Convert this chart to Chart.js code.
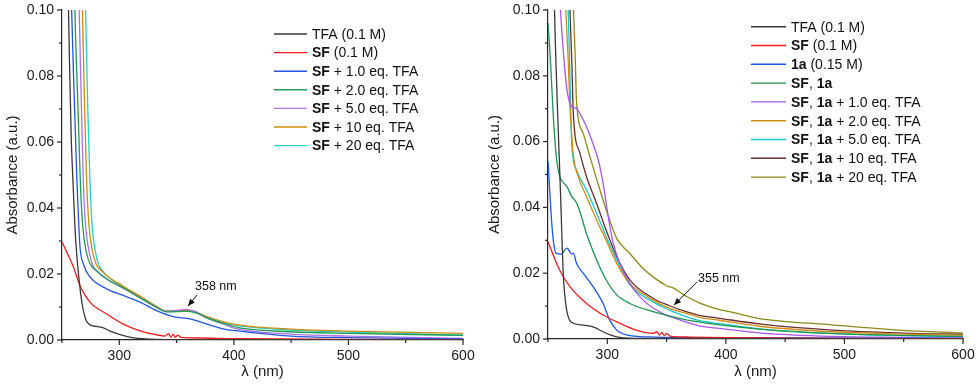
<!DOCTYPE html>
<html><head><meta charset="utf-8">
<script src="https://cdn.jsdelivr.net/npm/chart.js@4.4.0/dist/chart.umd.min.js"></script>
<style>
html,body{margin:0;padding:0;background:#fff;}
#wrap{position:relative;width:979px;height:384px;overflow:hidden;}
#c1{position:absolute;left:0;top:0;width:482px;height:384px;}
#c2{position:absolute;left:482px;top:0;width:497px;height:384px;}
</style></head><body>
<div id="wrap"><canvas id="c1" width="482" height="384"></canvas><canvas id="c2" width="497" height="384"></canvas></div>
<script>
// ---------- tick values ----------
const X_MIN = 250, X_MAX = 600, X_STEP = 50;
const Y_MIN = 0, Y_MAX = 0.10, Y_STEP = 0.01;
const X_TITLE = 'λ (nm)';
const Y_TITLE = 'Absorbance (a.u.)';

// ---------- left panel series: [wavelength nm, absorbance] ----------
const L_TFA = [[250,0.4],[255,0.12],[256.5,0.085],[258,0.062],[259.6,0.048],[262,0.03],[265,0.018],[268,0.01],[271,0.006],[275,0.0045],[280,0.0041],[285,0.0038],[292,0.0027],[300,0.0017],[310,0.0008],[320,0.0004],[350,0.0001],[600,0.00005]];
const L_SF = [[250,0.0297],[255,0.026],[260,0.0221],[265.7,0.0165],[274.4,0.0115],[289,0.0079],[303,0.0049],[318,0.0028],[332,0.0016],[340,0.0012],[343,0.0019],[345,0.0009],[347,0.0017],[349,0.0008],[351,0.0015],[354,0.0008],[370,0.0006],[400,0.0004],[500,0.0002],[600,0.0001]];
const L_SF_1 = [[256,0.14],[258.4,0.1],[261,0.07],[263,0.0485],[264.5,0.036],[265.7,0.0282],[268.6,0.0231],[274.4,0.0191],[289,0.0155],[303.5,0.0135],[318,0.0115],[332.6,0.0089],[347,0.0071],[361.6,0.0064],[376,0.0049],[390.6,0.0034],[405,0.0027],[450,0.0012],[500,0.0007],[600,0.0003]];
const L_SF_2 = [[259.5,0.14],[261.3,0.1],[264,0.07],[266,0.048],[268,0.035],[271,0.027],[275,0.0228],[280,0.021],[289,0.0185],[303.5,0.0158],[318,0.0128],[332.6,0.0099],[341,0.0085],[353,0.0086],[360,0.0087],[368,0.0081],[376,0.0068],[391,0.005],[405,0.0037],[450,0.0025],[500,0.002],[600,0.0014]];
const L_SF_5 = [[263,0.14],[265,0.1],[267,0.07],[268.6,0.048],[270.5,0.035],[273.5,0.027],[277,0.0225],[282,0.0205],[289,0.0185],[303.5,0.0157],[318,0.0128],[332.6,0.0099],[341,0.0087],[350,0.009],[358,0.0093],[365,0.0088],[376,0.0068],[391,0.0048],[405,0.0032],[450,0.0018],[500,0.0012],[600,0.0005]];
const L_SF_10 = [[266,0.14],[267.8,0.1],[269.8,0.07],[271.5,0.048],[273.5,0.035],[276.5,0.027],[280,0.0228],[285,0.0208],[289,0.0195],[303.5,0.0163],[318,0.0133],[332.6,0.0102],[341,0.0088],[350,0.0088],[358,0.009],[366,0.0086],[376,0.0072],[391,0.0055],[405,0.0045],[450,0.0033],[500,0.0027],[600,0.002]];
const L_SF_20 = [[268.8,0.14],[270.6,0.1],[272.5,0.07],[274.4,0.048],[276.2,0.035],[279,0.027],[282,0.0228],[286,0.0208],[289,0.0195],[303.5,0.016],[318,0.013],[332.6,0.01],[341,0.0086],[350,0.0087],[358,0.0089],[366,0.0085],[376,0.007],[391,0.0053],[405,0.0043],[450,0.003],[500,0.0024],[600,0.0015]];

// ---------- right panel series ----------
const R_TFA = [[250,0.4],[254.5,0.12],[255.5,0.1],[258,0.07],[260.5,0.045],[263,0.019],[267,0.0068],[271.5,0.0048],[280,0.0042],[288,0.0037],[296.5,0.0022],[303,0.0012],[310.5,0.0005],[330,0.0002],[600,0.00005]];
const R_SF = [[250,0.0296],[255,0.025],[260,0.0208],[268.5,0.0159],[282.5,0.0108],[296.5,0.0073],[310.5,0.0048],[324.5,0.0027],[338.5,0.0017],[342,0.0022],[344,0.0012],[346,0.002],[348,0.001],[350,0.0017],[353,0.0009],[370,0.0006],[400,0.0004],[500,0.0002],[600,0.0001]];
const R_1A = [[250,0.054],[251.5,0.045],[253,0.036],[254.5,0.03],[257,0.026],[261.5,0.0258],[264,0.027],[266,0.0276],[268.5,0.0265],[270,0.0258],[271.5,0.026],[274,0.023],[279.7,0.02],[288,0.0159],[296.5,0.0108],[302,0.0058],[308,0.0027],[317,0.0012],[340,0.0006],[400,0.0004],[600,0.0002]];
const R_SF_1A = [[250,0.096],[252,0.085],[254.5,0.0676],[257.3,0.0544],[260,0.0493],[263,0.0475],[266,0.0463],[270,0.0433],[272.7,0.0422],[275.5,0.0402],[282.5,0.032],[291,0.024],[299,0.018],[308,0.0134],[319,0.0108],[338.5,0.0083],[366.5,0.0058],[394.5,0.0043],[420,0.0033],[450,0.0024],[500,0.0015],[550,0.0011],[600,0.0008]];
const R_SF_1A_1 = [[259,0.11],[260.5,0.1],[263,0.087],[266,0.0757],[270,0.0706],[274,0.0701],[276.8,0.0686],[282.5,0.0645],[286.8,0.0605],[292.4,0.0544],[296.5,0.0473],[300.8,0.0372],[305,0.0291],[310.5,0.023],[319,0.0169],[330,0.0119],[344,0.0083],[361,0.0058],[377.7,0.004],[394.5,0.0032],[430,0.0018],[489.5,0.0008],[550,0.0005],[600,0.0003]];
const R_SF_1A_2 = [[263.5,0.11],[265,0.1],[267,0.085],[268.5,0.0706],[270,0.062],[271.5,0.0554],[275.5,0.0493],[282.5,0.0433],[291,0.0362],[299,0.03],[308,0.023],[319,0.0169],[338.5,0.0119],[352.5,0.0093],[366.5,0.0078],[377.7,0.0066],[394.5,0.0057],[430,0.0038],[489.5,0.0022],[550,0.0015],[600,0.0012]];
const R_SF_1A_5 = [[265.5,0.11],[267,0.1],[268.5,0.08],[270,0.0595],[274,0.0514],[282.5,0.0453],[291,0.0382],[299,0.0311],[308,0.024],[319,0.0165],[338.5,0.0113],[352.5,0.0088],[366.5,0.0068],[377.7,0.0056],[394.5,0.0047],[430,0.003],[489.5,0.0017],[550,0.001],[600,0.0007]];
const R_SF_1A_10 = [[267.5,0.11],[268.5,0.1],[270,0.085],[271.5,0.0676],[277,0.0564],[282.5,0.0493],[291,0.0412],[299,0.0331],[308,0.025],[319,0.018],[338.5,0.0124],[352.5,0.0101],[366.5,0.0083],[377.7,0.0072],[394.5,0.0063],[430,0.0045],[489.5,0.0027],[550,0.0018],[600,0.0014]];
const R_SF_1A_20 = [[270.5,0.11],[271.5,0.1],[273,0.085],[274,0.0726],[279.7,0.0625],[285.4,0.0554],[293.8,0.0453],[302,0.0362],[308,0.0305],[319,0.026],[330,0.0215],[340,0.0185],[349,0.0164],[351,0.016],[355,0.0156],[366.5,0.013],[377.7,0.011],[394.5,0.0089],[403,0.0083],[427,0.0063],[489.5,0.0043],[545.8,0.0027],[600,0.0018]];

// ---------- legend labels (**bold** parts) ----------
const L_LABELS = ['TFA (0.1 M)','**SF** (0.1 M)','**SF** + 1.0 eq. TFA','**SF** + 2.0 eq. TFA','**SF** + 5.0 eq. TFA','**SF** + 10 eq. TFA','**SF** + 20 eq. TFA'];
const R_LABELS = ['TFA (0.1 M)','**SF** (0.1 M)','**1a** (0.15 M)','**SF**, **1a**','**SF**, **1a** + 1.0 eq. TFA','**SF**, **1a** + 2.0 eq. TFA','**SF**, **1a** + 5.0 eq. TFA','**SF**, **1a** + 10 eq. TFA','**SF**, **1a** + 20 eq. TFA'];

// ---------- annotations ----------
const L_NOTE = {text:'358 nm', nm:360, abs:0.0103};
const R_NOTE = {text:'355 nm', nm:356.3, abs:0.0103};

// ---------- styles ----------
const L_COLORS = ['#3a3a3a','#f21d1d','#2455e0','#1f9a55','#a974e6','#d18b0c','#22d3c6'];
const R_COLORS = ['#3a3a3a','#f21d1d','#1a55ee','#1f9450','#a657ea','#d18b15','#14c9c9','#6a2c2c','#8c8a14'];
const FONT = "'Liberation Sans', Arial, Helvetica, sans-serif";
const AX = '#262626';

function toXY(arr){ return arr.map(p=>({x:p[0],y:p[1]})); }

function parseRich(s){
  const out=[]; const re=/\*\*(.+?)\*\*/g; let last=0,m;
  while((m=re.exec(s))){ if(m.index>last) out.push([s.slice(last,m.index),false]); out.push([m[1],true]); last=re.lastIndex; }
  if(last<s.length) out.push([s.slice(last),false]);
  return out;
}

const tickPlugin = {
  id:'tickMarks',
  afterDraw(chart){
    const ctx=chart.ctx, xs=chart.scales.x, ys=chart.scales.y, a=chart.chartArea;
    ctx.save(); ctx.strokeStyle=AX; ctx.lineWidth=1.2;
    xs.ticks.forEach(t=>{
      const px=xs.getPixelForValue(t.value);
      const len = (Math.round(t.value)%100===0)?5:3;
      ctx.beginPath(); ctx.moveTo(px,a.bottom); ctx.lineTo(px,a.bottom+len); ctx.stroke();
    });
    ys.ticks.forEach(t=>{
      const py=ys.getPixelForValue(t.value);
      const len = (Math.round(t.value*100)%2===0)?5:3;
      ctx.beginPath(); ctx.moveTo(a.left,py); ctx.lineTo(a.left-len,py); ctx.stroke();
    });
    ctx.restore();
  }
};

const legendPlugin = {
  id:'richLegend',
  afterDraw(chart, args, opts){
    const ctx=chart.ctx;
    ctx.save(); ctx.textBaseline='middle';
    opts.labels.forEach((lab,i)=>{
      const y=opts.y0+i*opts.step;
      ctx.strokeStyle=opts.colors[i]; ctx.lineWidth=1.4;
      ctx.beginPath(); ctx.moveTo(opts.x0,y); ctx.lineTo(opts.x0+opts.len,y); ctx.stroke();
      let x=opts.x0+opts.len+opts.gap;
      ctx.fillStyle='#111';
      parseRich(lab).forEach(([txt,b])=>{
        ctx.font=(b?'bold ':'')+opts.size+'px '+FONT;
        ctx.fillText(txt,x,y+1);
        x+=ctx.measureText(txt).width;
      });
    });
    ctx.restore();
  }
};

const notePlugin = {
  id:'arrowNote',
  afterDraw(chart, args, opts){
    const ctx=chart.ctx, xs=chart.scales.x, ys=chart.scales.y;
    const tx=xs.getPixelForValue(opts.nm), ty=ys.getPixelForValue(opts.abs);
    const sx=tx+opts.dx, sy=ty+opts.dy;
    ctx.save(); ctx.strokeStyle='#111'; ctx.fillStyle='#111'; ctx.lineWidth=1;
    ctx.beginPath(); ctx.moveTo(sx,sy); ctx.lineTo(tx,ty); ctx.stroke();
    const ang=Math.atan2(ty-sy,tx-sx), L=7, W=3;
    ctx.beginPath(); ctx.moveTo(tx,ty);
    ctx.lineTo(tx-L*Math.cos(ang)+W*Math.sin(ang), ty-L*Math.sin(ang)-W*Math.cos(ang));
    ctx.lineTo(tx-L*Math.cos(ang)-W*Math.sin(ang), ty-L*Math.sin(ang)+W*Math.cos(ang));
    ctx.closePath(); ctx.fill();
    ctx.font=opts.size+'px '+FONT; ctx.textBaseline='middle'; ctx.textAlign='left';
    ctx.fillText(opts.text, tx+opts.tx, ty+opts.ty);
    ctx.restore();
  }
};

function makeChart(id, series, labels, colors, geom, note){
  const datasets = series.map((s,i)=>({
    label: labels[i], data: toXY(s), borderColor: colors[i], borderWidth: 1.3,
    pointRadius: 0, fill: false, cubicInterpolationMode: 'monotone'
  }));
  return new Chart(document.getElementById(id), {
    type:'line',
    data:{datasets},
    plugins:[tickPlugin, legendPlugin, notePlugin],
    options:{
      responsive:false, animation:false, devicePixelRatio:1,
      layout:{padding:{left:0, top:geom.top, right:geom.right, bottom:0}},
      plugins:{
        legend:{display:false}, tooltip:{enabled:false},
        richLegend:{labels, colors, x0:geom.lx, y0:geom.ly, step:geom.lstep, len:geom.llen, gap:5, size:14},
        arrowNote:Object.assign({size:12.5}, note)
      },
      scales:{
        x:{type:'linear', min:X_MIN, max:X_MAX,
          grid:{display:false, drawTicks:false}, border:{display:true, color:AX, width:1.2},
          ticks:{stepSize:X_STEP, autoSkip:false, maxRotation:0, padding:8, color:'#1a1a1a',
            font:{family:FONT, size:14},
            callback:v=> (Math.round(v)%100===0 && v>X_MIN) ? String(Math.round(v)) : ''},
          title:{display:true, text:X_TITLE, color:'#1a1a1a', font:{family:FONT, size:15}, padding:{top:0,bottom:3}},
          afterFit:s=>{s.height=geom.bottomH; s.paddingLeft=0; s.paddingRight=0;}
        },
        y:{type:'linear', min:Y_MIN, max:Y_MAX,
          grid:{display:false, drawTicks:false}, border:{display:true, color:AX, width:1.2},
          ticks:{stepSize:Y_STEP, autoSkip:false, padding:8, color:'#1a1a1a',
            font:{family:FONT, size:14},
            callback:v=> (Math.round(v*100)%2===0) ? v.toFixed(2) : ''},
          title:{display:true, text:Y_TITLE, color:'#1a1a1a', font:{family:FONT, size:15}, padding:{top:4,bottom:0}},
          afterFit:s=>{s.width=geom.leftW; s.paddingTop=0; s.paddingBottom=0;}
        }
      }
    }
  });
}

makeChart('c1', [L_TFA,L_SF,L_SF_1,L_SF_2,L_SF_5,L_SF_10,L_SF_20], L_LABELS, L_COLORS,
  {top:10, right:19, leftW:62, bottomH:44, lx:274, ly:34, lstep:18.6, llen:33},
  Object.assign({dx:9, dy:-11, tx:7, ty:-19}, L_NOTE));
makeChart('c2', [R_TFA,R_SF,R_1A,R_SF_1A,R_SF_1A_1,R_SF_1A_2,R_SF_1A_5,R_SF_1A_10,R_SF_1A_20], R_LABELS, R_COLORS,
  {top:10, right:16, leftW:66, bottomH:45, lx:269, ly:26.7, lstep:18.8, llen:35},
  Object.assign({dx:23, dy:-23, tx:24, ty:-27}, R_NOTE));
</script>
</body></html>
